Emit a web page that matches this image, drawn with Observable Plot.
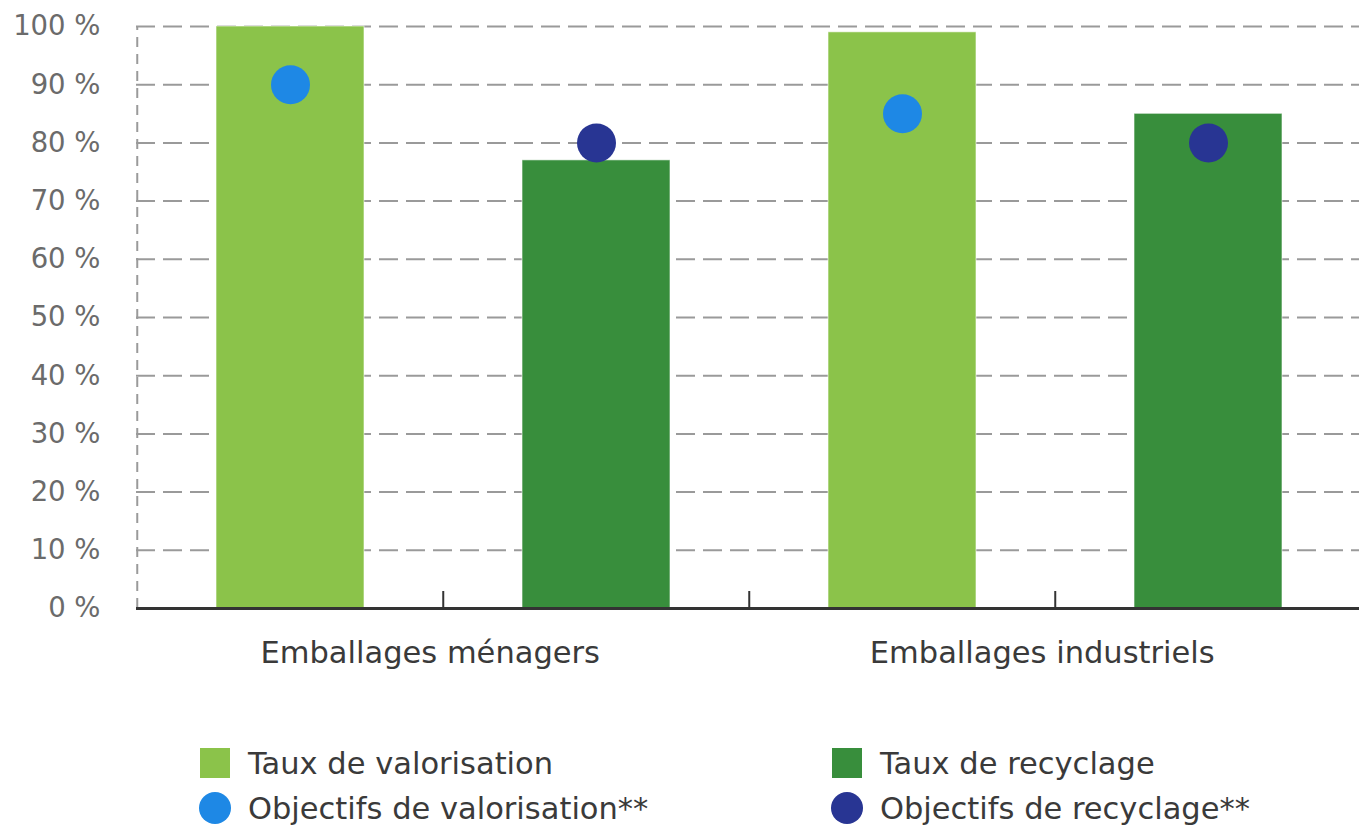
<!DOCTYPE html>
<html>
<head>
<meta charset="utf-8">
<script src="https://cdn.jsdelivr.net/npm/d3@7"></script>
<script src="https://cdn.jsdelivr.net/npm/@observablehq/plot@0.6"></script>
<style>
  html, body { margin: 0; padding: 0; background: #fff; overflow: hidden; }
  body { font-family: "DejaVu Sans", sans-serif; width: 1359px; }
  #chart { position: relative; width: 1359px; height: 700px; overflow: hidden; }
  #chart svg { max-width: none !important; height: 700px !important; }
  #legend { position: relative; width: 1359px; height: 125px; font-size: 30.5px; color: #3a3a3a; }
  .item { position: absolute; display: flex; align-items: center; height: 40px; white-space: nowrap; }
  .sw { width: 30px; height: 30px; margin-right: 18px; flex: none; }
  .ci { width: 32px; height: 32px; border-radius: 50%; margin-left: -1px; margin-right: 17px; flex: none; }
</style>
</head>
<body>
<div id="chart"></div>
<div id="legend"></div>
<script>
// ---- data ----
const groups = ["Emballages ménagers", "Emballages industriels"];
const seriesNames = ["Taux de valorisation", "Taux de recyclage", "Objectifs de valorisation**", "Objectifs de recyclage**"];
const seriesColors = ["#8bc34a", "#388e3c", "#1e88e5", "#283593"];
const tauxValorisation = [100, 99];
const tauxRecyclage = [77, 85];
const objectifsValorisation = [90, 85];
const objectifsRecyclage = [80, 80];
const yTicks = [0, 10, 20, 30, 40, 50, 60, 70, 80, 90, 100];

// ---- layout ----
const W = 1362, H = 700, mL = 136, mR = 0, mT = 26, mB = 92;
const step = (W - mL - mR) / 4;
const pxPerUnit = (H - mT - mB) / 100;

// ---- tables ----
const keys = [];
const bars = [];
const dots = [];
groups.forEach((g, i) => {
  const kv = g + "|val", kr = g + "|rec";
  keys.push(kv, kr);
  bars.push({key: kv, value: tauxValorisation[i], series: seriesNames[0]});
  bars.push({key: kr, value: tauxRecyclage[i], series: seriesNames[1]});
  dots.push({key: kv, value: objectifsValorisation[i], series: seriesNames[2]});
  dots.push({key: kr, value: objectifsRecyclage[i], series: seriesNames[3]});
});

const plot = Plot.plot({
  width: W, height: H,
  marginLeft: mL, marginRight: mR, marginTop: mT, marginBottom: mB,
  style: {fontFamily: "DejaVu Sans", fontSize: "27px", background: "#fff", overflow: "visible", maxWidth: "none"},
  x: {domain: keys, paddingInner: 0.516, paddingOuter: 0.258, axis: null},
  y: {domain: [0, 100], ticks: yTicks, axis: null},
  color: {domain: seriesNames, range: seriesColors},
  marks: [
    Plot.ruleY(yTicks.filter(t => t > 0), {stroke: "#9a9a9a", strokeWidth: 2, strokeDasharray: "19,8"}),
    Plot.ruleX([keys[0]], {dx: -step / 2, y1: 0, y2: 100, stroke: "#9a9a9a", strokeWidth: 2, strokeDasharray: "10,7"}),
    Plot.axisY(yTicks, {tickSize: 0, tickPadding: 36, tickFormat: d => d + " %", fill: "#6b6b6b", fontSize: 27.5, label: null}),
    Plot.barY(bars, {x: "key", y: "value", fill: "series", stroke: "#ffffff", strokeOpacity: 0.6, strokeWidth: 1}),
    Plot.dot(dots, {x: "key", y: "value", fill: "series", r: 19.5}),
    Plot.ruleY([0], {stroke: "#333", strokeWidth: 3}),
    Plot.ruleX(keys.slice(1), {dx: -step / 2, y1: 0, y2: 17 / pxPerUnit, stroke: "#333", strokeWidth: 2}),
    Plot.text([keys[1], keys[3]], {x: d => d, y: () => 0, text: d => d.split("|")[0], dx: -step / 2 - 13, dy: 45, fontSize: 30.5, fill: "#3a3a3a", lineAnchor: "middle"})
  ]
});
document.getElementById("chart").appendChild(plot);

// ---- legend ----
const legend = document.getElementById("legend");
const pos = [
  {left: 200, top: 43, shape: "sw"},
  {left: 832, top: 43, shape: "sw"},
  {left: 200, top: 88, shape: "ci"},
  {left: 832, top: 88, shape: "ci"}
];
seriesNames.forEach((name, i) => {
  const it = document.createElement("div");
  it.className = "item";
  it.style.left = pos[i].left + "px";
  it.style.top = pos[i].top + "px";
  const m = document.createElement("span");
  m.className = pos[i].shape;
  m.style.background = seriesColors[i];
  const t = document.createElement("span");
  t.textContent = name;
  it.appendChild(m);
  it.appendChild(t);
  legend.appendChild(it);
});
</script>
</body>
</html>
